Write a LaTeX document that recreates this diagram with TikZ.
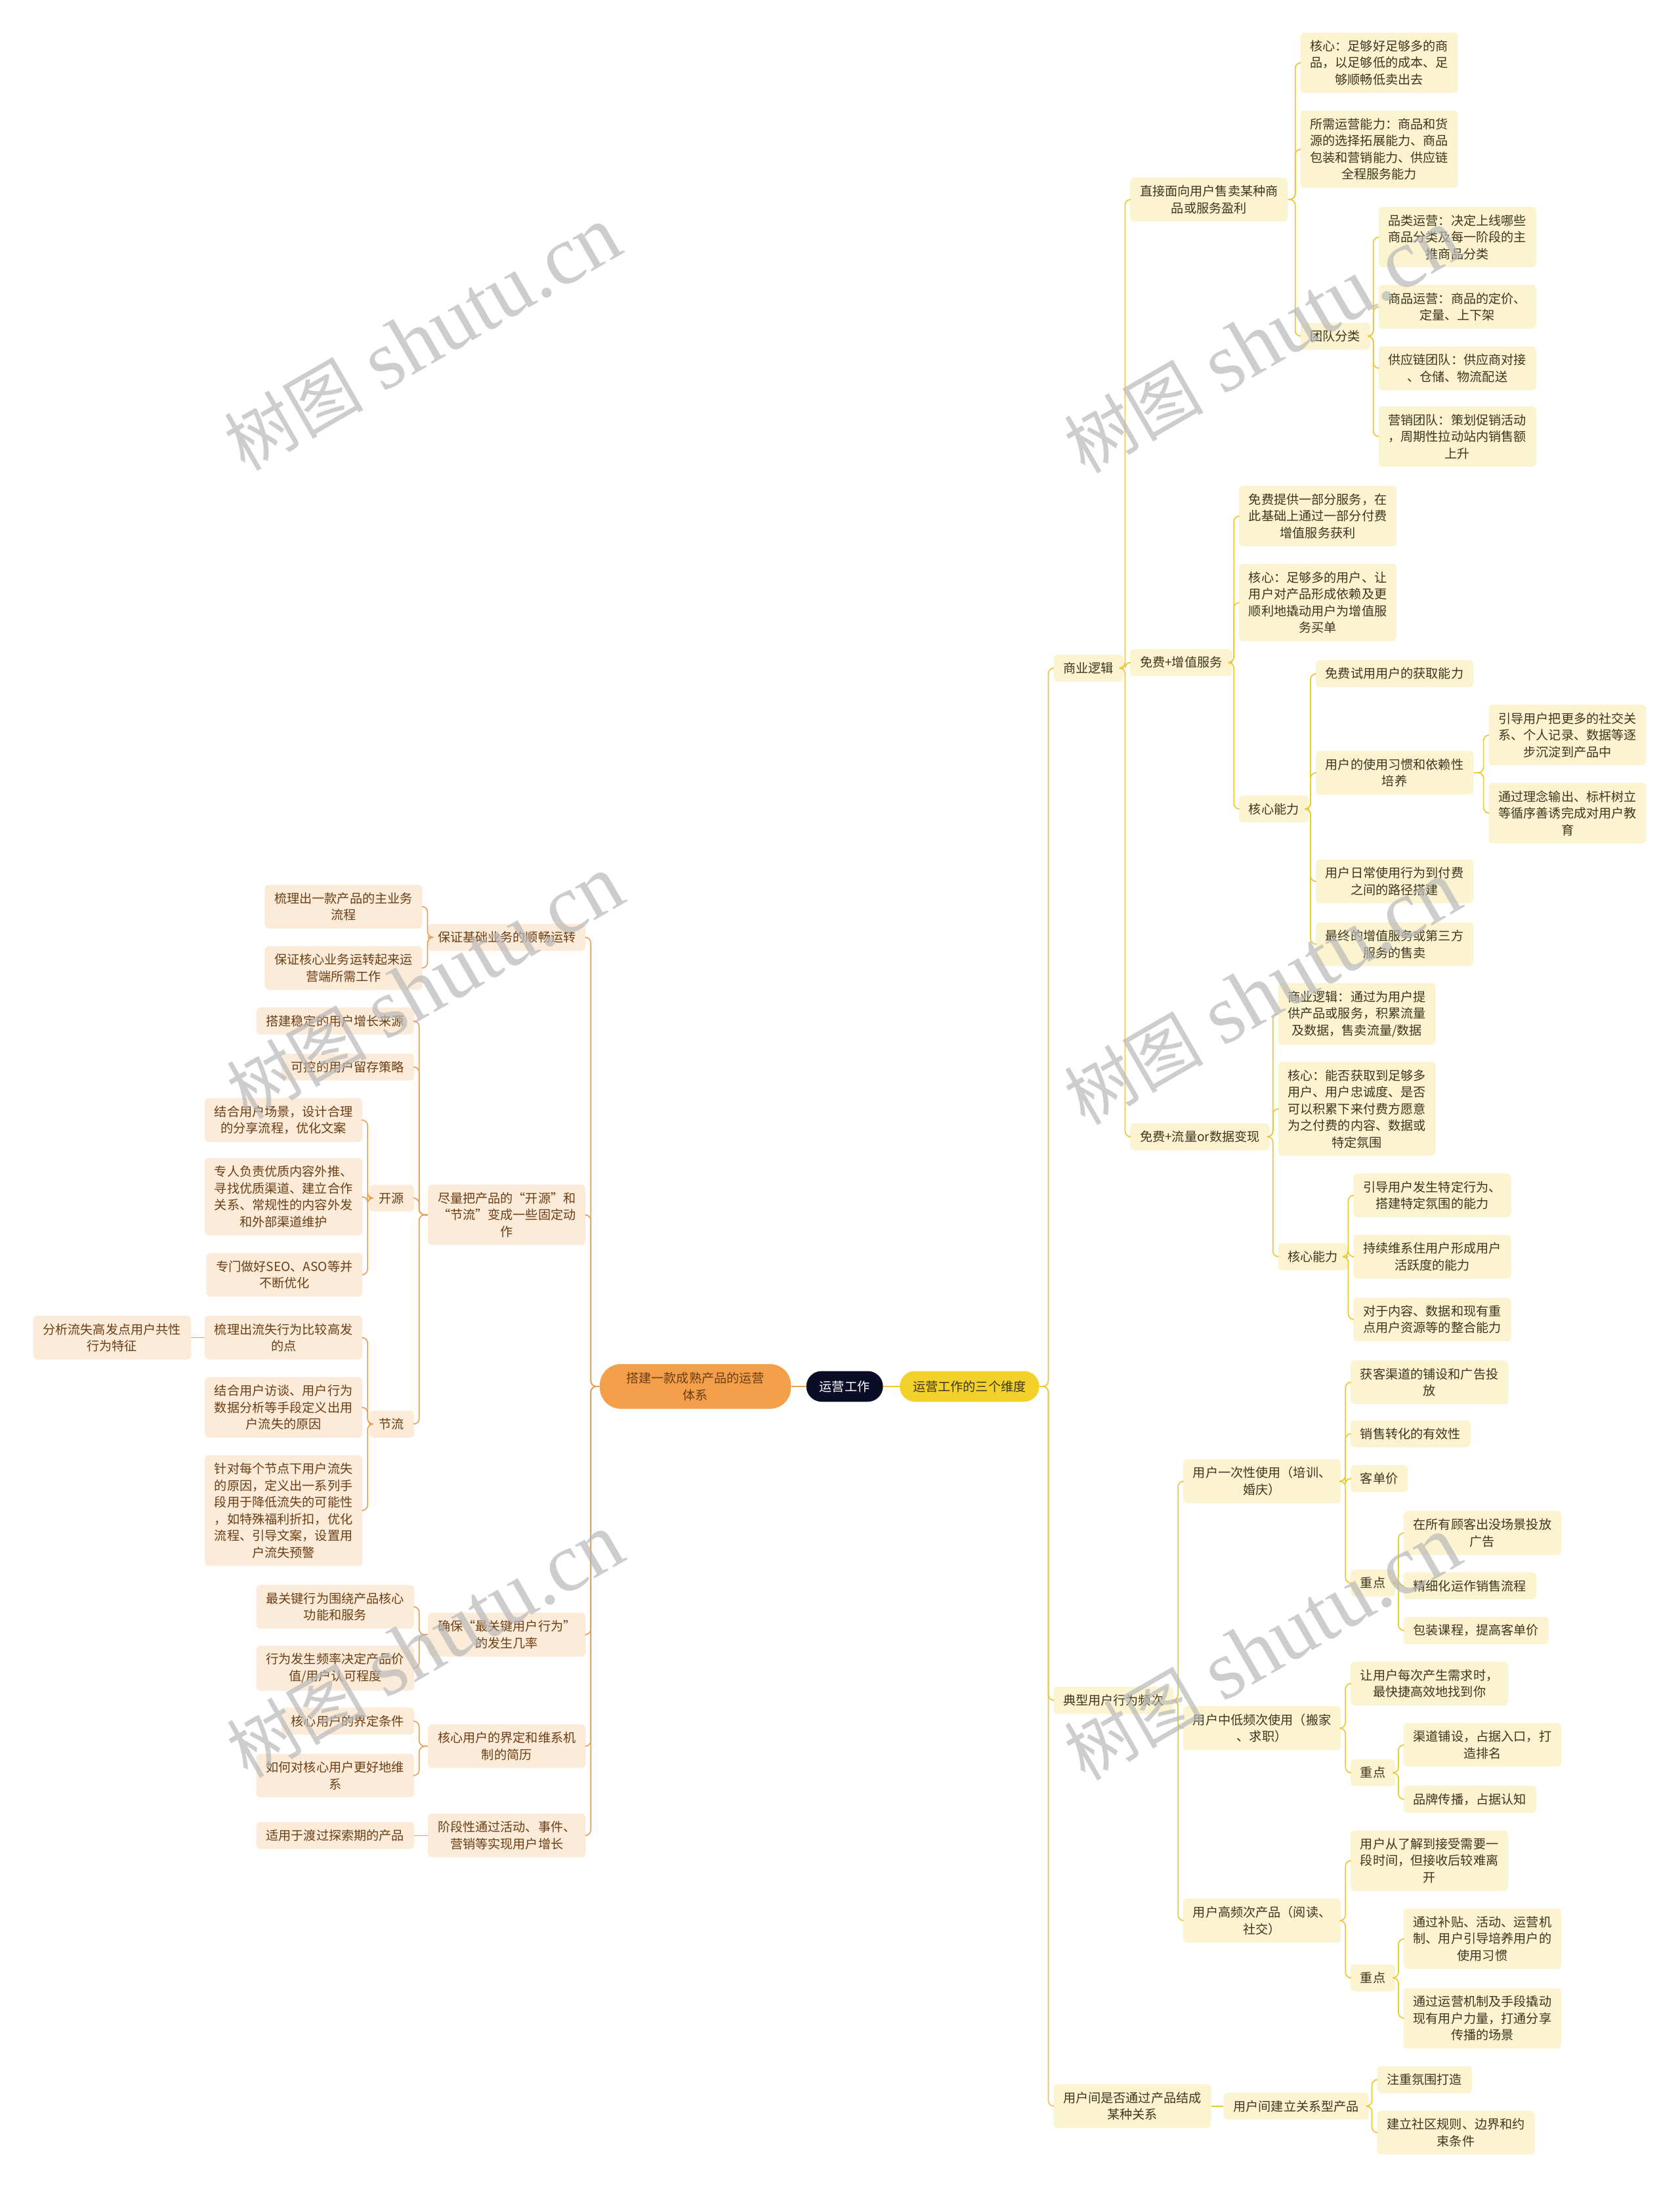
\documentclass[tikz,border=0pt]{standalone}
\usepackage{fontspec}
\setmainfont{Noto Sans CJK SC}
\newfontfamily\wmfont{Liberation Serif}
\usepackage{tikz}

\definecolor{rootc}{HTML}{0B0C28}
\definecolor{ymainc}{HTML}{F2D12B}
\definecolor{yfillc}{HTML}{FCF3D0}
\definecolor{ylinec}{HTML}{EBC834}
\definecolor{ytextc}{HTML}{3D3520}
\definecolor{omainc}{HTML}{F4A04B}
\definecolor{ofillc}{HTML}{FDEBDA}
\definecolor{olinec}{HTML}{E6A25A}
\definecolor{otextc}{HTML}{6A3E14}
\newcommand\nfont{\fontsize{9}{12}\selectfont}

\begin{document}
\begin{tikzpicture}[x=1pt, y=-1pt,
  ybox/.style={fill=yfillc, text=ytextc, rounded corners=3pt, align=center,
    inner xsep=7pt, inner ysep=5.5pt, font=\nfont, anchor=west},
  obox/.style={fill=ofillc, text=otextc, rounded corners=3pt, align=center,
    inner xsep=7pt, inner ysep=5.5pt, font=\nfont, anchor=east},
  yedge/.style={draw=ylinec, line width=0.8pt, rounded corners=4pt},
  oedge/.style={draw=olinec, line width=0.8pt, rounded corners=4pt},
  wmark/.style={rotate=30, text=gray!55, opacity=0.7}]

\useasboundingbox[fill=white] (0,0) rectangle (1204,1568);

% Center
\node[fill=rootc, text=white, rounded corners=11pt, font=\nfont, minimum width=55pt, minimum height=22pt] (root) at (605.5,994) {运营工作};
\node[fill=ymainc, text=ytextc, rounded corners=11pt, font=\nfont, minimum width=100pt, minimum height=22pt] (ymain) at (695,994) {运营工作的三个维度};
\node[fill=omainc, text=otextc, rounded corners=15pt, font=\nfont, align=center, minimum width=137pt, minimum height=32pt] (omain) at (498.5,994) {搭建一款成熟产品的运营\\体系};
\draw[yedge] (root.east) -- (ymain.west);
\draw[oedge] (root.west) -- (omain.east);

% Right branch: business logic
\node[ybox] (ba) at (755,479) {商业逻辑};
\node[ybox] (b1) at (810,143) {直接面向用户售卖某种商\\品或服务盈利};
\node[ybox] (b11) at (932,45) {核心：足够好足够多的商\\品，以足够低的成本、足\\够顺畅低卖出去};
\node[ybox] (b12) at (932,107) {所需运营能力：商品和货\\源的选择拓展能力、商品\\包装和营销能力、供应链\\全程服务能力};
\node[ybox] (b13) at (932,241) {团队分类};
\node[ybox] (b131) at (988,170) {品类运营：决定上线哪些\\商品分类及每一阶段的主\\推商品分类};
\node[ybox] (b132) at (988,220) {商品运营：商品的定价、\\定量、上下架};
\node[ybox] (b133) at (988,264) {供应链团队：供应商对接\\、仓储、物流配送};
\node[ybox] (b134) at (988,313) {营销团队：策划促销活动\\，周期性拉动站内销售额\\上升};
\node[ybox] (b2) at (810,475) {免费+增值服务};
\node[ybox] (b21) at (888,370) {免费提供一部分服务，在\\此基础上通过一部分付费\\增值服务获利};
\node[ybox] (b22) at (888,432) {核心：足够多的用户、让\\用户对产品形成依赖及更\\顺利地撬动用户为增值服\\务买单};
\node[ybox] (b23) at (888,580) {核心能力};
\node[ybox] (b231) at (943,483) {免费试用用户的获取能力};
\node[ybox] (b232) at (943,554) {用户的使用习惯和依赖性\\培养};
\node[ybox] (b2321) at (1067,527) {引导用户把更多的社交关\\系、个人记录、数据等逐\\步沉淀到产品中};
\node[ybox] (b2322) at (1067,583) {通过理念输出、标杆树立\\等循序善诱完成对用户教\\育};
\node[ybox] (b233) at (943,632) {用户日常使用行为到付费\\之间的路径搭建};
\node[ybox] (b234) at (943,677) {最终的增值服务或第三方\\服务的售卖};
\node[ybox] (b3) at (810,815) {免费+流量or数据变现};
\node[ybox] (b31) at (916,727) {商业逻辑：通过为用户提\\供产品或服务，积累流量\\及数据，售卖流量/数据};
\node[ybox] (b32) at (916,795) {核心：能否获取到足够多\\用户、用户忠诚度、是否\\可以积累下来付费方愿意\\为之付费的内容、数据或\\特定氛围};
\node[ybox] (b33) at (916,901) {核心能力};
\node[ybox] (b331) at (970,857) {引导用户发生特定行为、\\搭建特定氛围的能力};
\node[ybox] (b332) at (970,901) {持续维系住用户形成用户\\活跃度的能力};
\node[ybox] (b333) at (970,946) {对于内容、数据和现有重\\点用户资源等的整合能力};

% Right branch: frequency
\node[ybox] (c) at (755,1219) {典型用户行为频次};
\node[ybox] (c1) at (848,1062) {用户一次性使用（培训、\\婚庆）};
\node[ybox] (c11) at (968,991) {获客渠道的铺设和广告投\\放};
\node[ybox] (c12) at (968,1028) {销售转化的有效性};
\node[ybox] (c13) at (968,1060) {客单价};
\node[ybox] (c14) at (968,1135) {重点};
\node[ybox] (c141) at (1006,1099) {在所有顾客出没场景投放\\广告};
\node[ybox] (c142) at (1006,1137) {精细化运作销售流程};
\node[ybox] (c143) at (1006,1169) {包装课程，提高客单价};
\node[ybox] (c2) at (848,1239) {用户中低频次使用（搬家\\、求职）};
\node[ybox] (c21) at (968,1207) {让用户每次产生需求时，\\最快捷高效地找到你};
\node[ybox] (c22) at (968,1271) {重点};
\node[ybox] (c221) at (1006,1251) {渠道铺设，占据入口，打\\造排名};
\node[ybox] (c222) at (1006,1290) {品牌传播，占据认知};
\node[ybox] (c3) at (848,1377) {用户高频次产品（阅读、\\社交）};
\node[ybox] (c31) at (968,1334) {用户从了解到接受需要一\\段时间，但接收后较难离\\开};
\node[ybox] (c32) at (968,1418) {重点};
\node[ybox] (c321) at (1006,1390) {通过补贴、活动、运营机\\制、用户引导培养用户的\\使用习惯};
\node[ybox] (c322) at (1006,1447) {通过运营机制及手段撬动\\现有用户力量，打通分享\\传播的场景};

% Right branch: relations
\node[ybox] (d) at (755,1510) {用户间是否通过产品结成\\某种关系};
\node[ybox] (d1) at (877,1510) {用户间建立关系型产品};
\node[ybox] (d11) at (987,1491) {注重氛围打造};
\node[ybox] (d12) at (987,1529) {建立社区规则、边界和约\\束条件};

% Left branch
\node[obox] (e1) at (420,672) {保证基础业务的顺畅运转};
\node[obox] (e11) at (303,650) {梳理出一款产品的主业务\\流程};
\node[obox] (e12) at (303,694) {保证核心业务运转起来运\\营端所需工作};
\node[obox] (e2) at (420,871) {尽量把产品的“开源”和\\“节流”变成一些固定动\\作};
\node[obox] (e21) at (297,732) {搭建稳定的用户增长来源};
\node[obox] (e22) at (297,765) {可控的用户留存策略};
\node[obox] (e23) at (297,859) {开源};
\node[obox] (e231) at (260,803) {结合用户场景，设计合理\\的分享流程，优化文案};
\node[obox] (e232) at (260,858) {专人负责优质内容外推、\\寻找优质渠道、建立合作\\关系、常规性的内容外发\\和外部渠道维护};
\node[obox] (e233) at (260,914) {专门做好SEO、ASO等并\\不断优化};
\node[obox] (e24) at (297,1021) {节流};
\node[obox] (e241) at (260,959) {梳理出流失行为比较高发\\的点};
\node[obox] (e2411) at (137,959) {分析流失高发点用户共性\\行为特征};
\node[obox] (e242) at (260,1009) {结合用户访谈、用户行为\\数据分析等手段定义出用\\户流失的原因};
\node[obox] (e243) at (260,1083) {针对每个节点下用户流失\\的原因，定义出一系列手\\段用于降低流失的可能性\\，如特殊福利折扣，优化\\流程、引导文案，设置用\\户流失预警};
\node[obox] (e3) at (420,1172) {确保“最关键用户行为”\\的发生几率};
\node[obox] (e31) at (297,1152) {最关键行为围绕产品核心\\功能和服务};
\node[obox] (e32) at (297,1196) {行为发生频率决定产品价\\值/用户认可程度};
\node[obox] (e4) at (420,1252) {核心用户的界定和维系机\\制的简历};
\node[obox] (e41) at (297,1234) {核心用户的界定条件};
\node[obox] (e42) at (297,1273) {如何对核心用户更好地维\\系};
\node[obox] (e5) at (420,1316) {阶段性通过活动、事件、\\营销等实现用户增长};
\node[obox] (e51) at (297,1316) {适用于渡过探索期的产品};

% Connectors
\foreach \p/\c in {ymain/ba, ymain/c, ymain/d,
    ba/b1, ba/b2, ba/b3, b1/b11, b1/b12, b1/b13,
    b13/b131, b13/b132, b13/b133, b13/b134,
    b2/b21, b2/b22, b2/b23, b23/b231, b23/b232, b23/b233, b23/b234,
    b232/b2321, b232/b2322,
    b3/b31, b3/b32, b3/b33, b33/b331, b33/b332, b33/b333,
    c/c1, c/c2, c/c3, c1/c11, c1/c12, c1/c13, c1/c14,
    c14/c141, c14/c142, c14/c143, c2/c21, c2/c22, c22/c221, c22/c222,
    c3/c31, c3/c32, c32/c321, c32/c322, d1/d11, d1/d12}
  \draw[yedge] (\p.east) -| ([xshift=-3.5pt]\c.west) -- (\c.west);
\draw[yedge] (d.east) -- (d1.west);

\foreach \p/\c in {omain/e1, omain/e2, omain/e3, omain/e4, omain/e5,
    e1/e11, e1/e12, e2/e21, e2/e22, e2/e23, e2/e24,
    e23/e231, e23/e232, e23/e233, e24/e241, e24/e242, e24/e243,
    e3/e31, e3/e32, e4/e41, e4/e42}
  \draw[oedge] (\p.west) -| ([xshift=3.5pt]\c.east) -- (\c.east);
\draw[oedge] (e5.west) -- (e51.east);
\draw[oedge] (e241.west) -- (e2411.east);

% Watermarks
\foreach \wx/\wy in {303/243, 905/245, 305/708, 905/712, 305/1180, 905/1182}
  \node[wmark] (wm) at (\wx,\wy) {{\fontsize{50}{50}\selectfont 树图}\hspace{14pt}{\wmfont\fontsize{60}{60}\selectfont shutu.cn}};

\end{tikzpicture}
\end{document}
